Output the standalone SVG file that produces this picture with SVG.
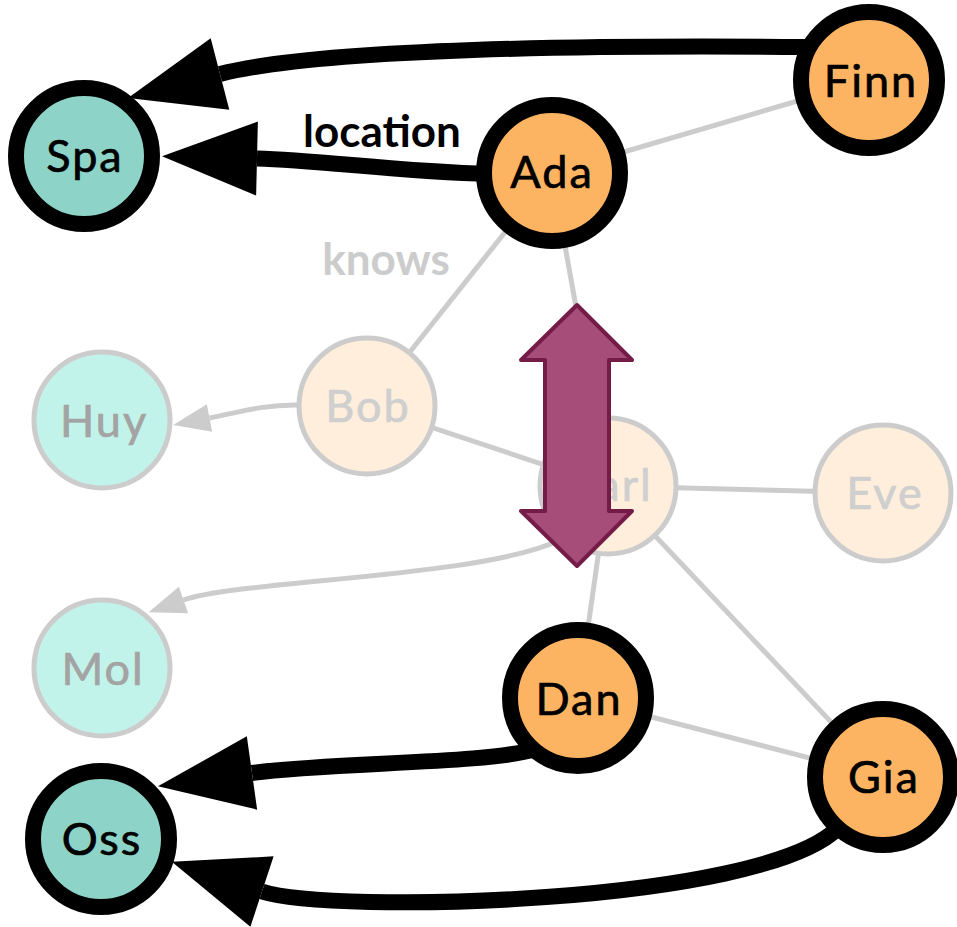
<svg xmlns="http://www.w3.org/2000/svg" width="957" height="927" viewBox="0 0 957 927">
  <style>
    .bg { fill: #ffffff; }
    .node circle { stroke-width: 16; }
    .node.faded circle { stroke: #cccccc; stroke-width: 5; }
    .node.bold circle { stroke: #000000; }
    .person.bold circle { fill: #fdb462; }
    .place.bold circle { fill: #8dd3c7; }
    .person.faded circle { fill: #feeedb; }
    .place.faded circle { fill: #c2f3ea; }
    .node text { font-family: "Lato", "Liberation Sans", sans-serif; font-size: 45px; letter-spacing: 2px; text-anchor: middle; stroke-width: 0.7px; }
    .node.bold text { fill: #000000; stroke: #000000; }
    .person.faded text { fill: #cfcfcf; stroke: #cfcfcf; }
    .place.faded text { fill: #a3a3a3; stroke: #a3a3a3; }
    .link { fill: none; stroke: #cccccc; stroke-width: 5; }
    .link.strong { stroke: #000000; stroke-width: 16; }
    .label { font-family: "Lato", "Liberation Sans", sans-serif; font-weight: bold; font-size: 44px; text-anchor: middle; }
    .swap { fill: #a64d79; stroke: #741b47; stroke-width: 4; stroke-linejoin: round; }
  </style>
  <defs>
    <marker id="head-strong" markerUnits="userSpaceOnUse" viewBox="0 -38 96 76" markerWidth="96" markerHeight="76" refX="0" refY="0" orient="auto" overflow="visible">
      <path d="M0,-37 L95,0 L0,37 Z" fill="#000000"/>
    </marker>
    <marker id="head-faint" markerUnits="userSpaceOnUse" viewBox="0 -15 38 30" markerWidth="38" markerHeight="30" refX="0" refY="0" orient="auto" overflow="visible">
      <path d="M0,-14 L37,0 L0,14 Z" fill="#cccccc"/>
    </marker>
  </defs>

  <rect class="bg" x="0" y="0" width="957" height="927"/>

  <g id="links">
    <!-- undirected "knows" edges -->
    <line class="link" x1="552" y1="173" x2="869" y2="80"/>
    <line class="link" x1="552" y1="173" x2="367" y2="406"/>
    <line class="link" x1="552" y1="173" x2="608" y2="486"/>
    <line class="link" x1="367" y1="406" x2="608" y2="486"/>
    <line class="link" x1="608" y1="486" x2="883" y2="493"/>
    <line class="link" x1="608" y1="486" x2="578" y2="698"/>
    <line class="link" x1="608" y1="486" x2="883" y2="777"/>
    <line class="link" x1="578" y1="698" x2="883" y2="777"/>
    <!-- faded location edges -->
    <path class="link" d="M300,405 C265,404 235,413 209.5,418" marker-end="url(#head-faint)"/>
    <path class="link" d="M560,540 C480,578 240,580 183.5,600" marker-end="url(#head-faint)"/>
    <!-- highlighted location edges -->
    <path class="link strong" d="M805,47 C600,45 320,48 220,74" marker-end="url(#head-strong)"/>
    <path class="link strong" d="M490,174 C400,172 320,160 257,158.5" marker-end="url(#head-strong)"/>
    <path class="link strong" d="M535,749 C490,764 330,762 252,773" marker-end="url(#head-strong)"/>
    <path class="link strong" d="M838,828 C760,905 330,914 262,891.5" marker-end="url(#head-strong)"/>
    <text class="label" x="382" y="147" fill="#000000">location</text>
    <text class="label" x="386" y="275" fill="#cccccc">knows</text>
  </g>

  <g id="node-spa" class="node place bold">
    <circle cx="84" cy="156" r="68"/>
    <text x="85" y="172">Spa</text>
  </g>
  <g id="node-finn" class="node person bold">
    <circle cx="869" cy="80" r="68"/>
    <text x="871" y="97">Finn</text>
  </g>
  <g id="node-ada" class="node person bold">
    <circle cx="552" cy="173" r="68"/>
    <text x="552" y="188">Ada</text>
  </g>
  <g id="node-huy" class="node place faded">
    <circle cx="102" cy="420" r="68"/>
    <text x="104" y="437">Huy</text>
  </g>
  <g id="node-bob" class="node person faded">
    <circle cx="367" cy="406" r="68"/>
    <text x="368" y="422">Bob</text>
  </g>
  <g id="node-carl" class="node person faded">
    <circle cx="608" cy="486" r="68"/>
    <text x="609" y="501">Carl</text>
  </g>
  <g id="node-eve" class="node person faded">
    <circle cx="883" cy="493" r="68"/>
    <text x="885" y="509">Eve</text>
  </g>
  <g id="node-mol" class="node place faded">
    <circle cx="102" cy="668" r="68"/>
    <text x="103" y="685">Mol</text>
  </g>
  <g id="node-dan" class="node person bold">
    <circle cx="578" cy="698" r="68"/>
    <text x="579" y="715">Dan</text>
  </g>
  <g id="node-gia" class="node person bold">
    <circle cx="883" cy="777" r="68"/>
    <text x="884" y="793">Gia</text>
  </g>
  <g id="node-oss" class="node place bold">
    <circle cx="101" cy="839" r="68"/>
    <text x="102" y="855">Oss</text>
  </g>

  <!-- two-way block arrow over Carl -->
  <g id="swap-arrow">
    <polygon class="swap" points="577,305 632,360 609,360 609,511 632,511 577,566 521,511 545,511 545,360 521,360"/>
  </g>
</svg>
